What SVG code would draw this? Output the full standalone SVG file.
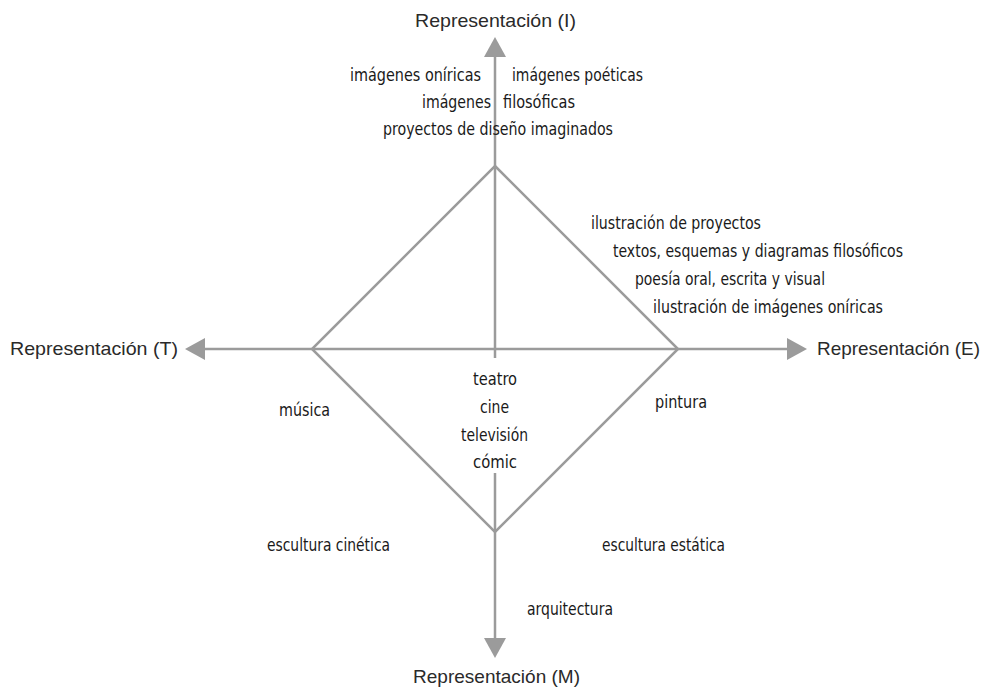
<svg xmlns="http://www.w3.org/2000/svg" width="985" height="688" viewBox="0 0 985 688">
<style>
.ln{stroke:#9b9b9b;stroke-width:2.5;fill:none}
.ah{fill:#9b9b9b}
.ax{font-family:"Liberation Sans",Arial,sans-serif;font-size:19px;fill:#2a2a2a}
.lb{font-family:"Liberation Sans Narrow","DejaVu Sans Condensed","Liberation Sans",sans-serif;font-size:17.5px;fill:#1a1a1a}
</style>
<rect width="985" height="688" fill="#ffffff"/>
<g id="connectors">
<line class="ln" x1="495" y1="55" x2="495" y2="358"/>
<line class="ln" x1="495" y1="473" x2="495" y2="640"/>
<line class="ln" x1="203" y1="349" x2="789" y2="349"/>
<polygon class="ln" points="495,166 678,349 495,532 312,349"/>
<polygon class="ah" points="495,37 484,57 506,57"/>
<polygon class="ah" points="495,658 484,638 506,638"/>
<polygon class="ah" points="185,349 205,338 205,360"/>
<polygon class="ah" points="807,349 787,338 787,360"/>
</g>
<g id="axis-I"><text class="ax" x="415" y="27" textLength="161" lengthAdjust="spacingAndGlyphs">Representación (I)</text></g>
<g id="axis-T"><text class="ax" x="10" y="355" textLength="168" lengthAdjust="spacingAndGlyphs">Representación (T)</text></g>
<g id="axis-E"><text class="ax" x="817" y="355" textLength="163" lengthAdjust="spacingAndGlyphs">Representación (E)</text></g>
<g id="axis-M"><text class="ax" x="413" y="683" textLength="167" lengthAdjust="spacingAndGlyphs">Representación (M)</text></g>
<g id="top-labels">
<text class="lb" x="350" y="81" textLength="131" lengthAdjust="spacingAndGlyphs">imágenes oníricas</text>
<text class="lb" x="512" y="81" textLength="131" lengthAdjust="spacingAndGlyphs">imágenes poéticas</text>
<text class="lb" x="422" y="108" textLength="69" lengthAdjust="spacingAndGlyphs">imágenes</text>
<text class="lb" x="503" y="108" textLength="72" lengthAdjust="spacingAndGlyphs">filosóficas</text>
<text class="lb" x="383" y="135" textLength="230" lengthAdjust="spacingAndGlyphs">proyectos de diseño imaginados</text>
</g>
<g id="right-labels">
<text class="lb" x="591" y="229" textLength="170" lengthAdjust="spacingAndGlyphs">ilustración de proyectos</text>
<text class="lb" x="613" y="257" textLength="290" lengthAdjust="spacingAndGlyphs">textos, esquemas y diagramas filosóficos</text>
<text class="lb" x="635" y="285" textLength="190" lengthAdjust="spacingAndGlyphs">poesía oral, escrita y visual</text>
<text class="lb" x="653" y="313" textLength="230" lengthAdjust="spacingAndGlyphs">ilustración de imágenes oníricas</text>
</g>
<g id="center-labels">
<text class="lb" x="473" y="385" textLength="44" lengthAdjust="spacingAndGlyphs">teatro</text>
<text class="lb" x="480" y="413" textLength="29" lengthAdjust="spacingAndGlyphs">cine</text>
<text class="lb" x="461" y="441" textLength="67" lengthAdjust="spacingAndGlyphs">televisión</text>
<text class="lb" x="473" y="468" textLength="44" lengthAdjust="spacingAndGlyphs">cómic</text>
</g>
<g id="musica"><text class="lb" x="279" y="416" textLength="51" lengthAdjust="spacingAndGlyphs">música</text></g>
<g id="pintura"><text class="lb" x="655" y="408" textLength="52" lengthAdjust="spacingAndGlyphs">pintura</text></g>
<g id="escultura-cinetica"><text class="lb" x="267" y="551" textLength="123" lengthAdjust="spacingAndGlyphs">escultura cinética</text></g>
<g id="escultura-estatica"><text class="lb" x="602" y="551" textLength="123" lengthAdjust="spacingAndGlyphs">escultura estática</text></g>
<g id="arquitectura"><text class="lb" x="527" y="615" textLength="86" lengthAdjust="spacingAndGlyphs">arquitectura</text></g>
</svg>
